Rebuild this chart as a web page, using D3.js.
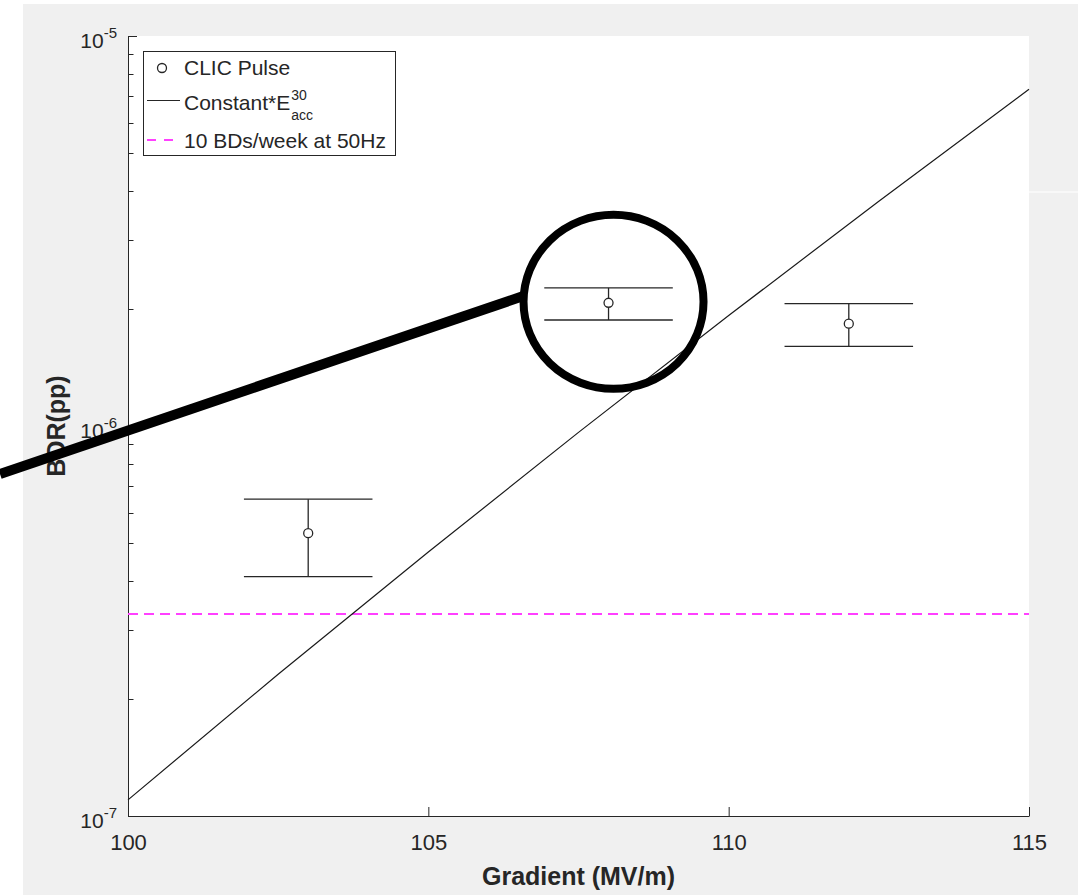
<!DOCTYPE html>
<meta charset="utf-8">
<title>BDR vs Gradient</title>
<style>
    body { margin: 0; background: #fff; }
    text {
        font-family: "Liberation Sans", Arial, Helvetica, sans-serif;
        fill: #262626;
    }
    .axis path, .axis line { stroke: #262626; }
</style>

<svg width="1082" height="895"></svg>

<script src="https://d3js.org/d3.v7.min.js"></script>
<script>

    // CLIC pulse measurements (value + error bar ends)
    var pulseX = [103, 108, 112];
    var pulseBdr = [5.31e-7, 2.07e-6, 1.83e-6];
    var pulseHigh = [6.49e-7, 2.26e-6, 2.06e-6];
    var pulseLow = [4.11e-7, 1.87e-6, 1.60e-6];

    // Constant*E^30 curve
    var fitX = [100, 102.5, 105, 107.5, 110, 112.5, 115];
    var fitBdr = [1.10e-7, 2.31e-7, 4.75e-7, 9.63e-7, 1.92e-6, 3.77e-6, 7.30e-6];

    // 10 BDs/week at 50Hz
    var limitBdr = 3.3e-7;

    var xTicks = [100, 105, 110, 115];
    var yTicks = [1e-7, 1e-6, 1e-5];
    var yExponents = ["-7", "-6", "-5"];
    var legendLabels = ["CLIC Pulse", "Constant*E", "10 BDs/week at 50Hz"];

    var svg = d3.select("svg");

    var x = d3.scaleLinear().domain([100, 115]).range([128, 1029]);
    var y = d3.scaleLog().domain([1e-7, 1e-5]).range([816, 36]);

    // figure background
    svg.append("rect")
        .attr("x", 23).attr("y", 4)
        .attr("width", 1055).attr("height", 891)
        .attr("fill", "#f0f0f0");
    svg.append("rect")
        .attr("x", 1029).attr("y", 191.5)
        .attr("width", 49).attr("height", 1)
        .attr("fill", "#fff");

    // axes area
    svg.append("rect")
        .attr("x", x.range()[0]).attr("y", y.range()[1])
        .attr("width", x.range()[1] - x.range()[0])
        .attr("height", y.range()[0] - y.range()[1])
        .attr("fill", "#fff");

    var xAxis = svg.append("g")
        .attr("class", "axis")
        .attr("transform", "translate(0," + y.range()[0] + ")")
        .call(d3.axisBottom(x)
            .tickValues(xTicks)
            .tickSize(-9)
            .tickSizeOuter(0)
            .tickPadding(18)
            .tickFormat(d3.format("d")));
    xAxis.selectAll("text")
        .attr("fill", "#262626")
        .style("font-size", "22px")
        .style("font-family", "'Liberation Sans', Arial, sans-serif");

    var yAxis = svg.append("g")
        .attr("class", "axis")
        .attr("transform", "translate(" + x.range()[0] + ",0)")
        .call(d3.axisLeft(y)
            .tickValues(yTicks)
            .tickSize(-9)
            .tickSizeOuter(0)
            .tickFormat(""));

    // log minor ticks
    var minor = [];
    [1e-7, 1e-6].forEach(function (d) {
        for (var k = 2; k <= 9; k++) minor.push(d * k);
    });
    yAxis.selectAll(".minor")
        .data(minor)
        .enter().append("line")
        .attr("class", "minor")
        .attr("x1", 0.5).attr("x2", 5.5)
        .attr("y1", function (d) { return Math.round(y(d)) + 0.5; })
        .attr("y2", function (d) { return Math.round(y(d)) + 0.5; })
        .attr("stroke", "#262626");

    // y tick labels 10^n
    var yLab = svg.append("g").selectAll("text")
        .data(yTicks)
        .enter().append("text")
        .attr("x", 117)
        .attr("y", function (d) { return y(d) + 12; })
        .attr("text-anchor", "end")
        .style("font-size", "21px");
    yLab.append("tspan").text("10");
    yLab.append("tspan")
        .attr("dy", -10)
        .style("font-size", "15px")
        .text(function (d, i) { return yExponents[i]; });

    // axis titles
    svg.append("text")
        .attr("x", (x.range()[0] + x.range()[1]) / 2)
        .attr("y", 885)
        .attr("text-anchor", "middle")
        .style("font-size", "25px")
        .style("font-weight", "bold")
        .text("Gradient (MV/m)");

    svg.append("text")
        .attr("transform", "translate(65," + (y.range()[0] + y.range()[1]) / 2 + ") rotate(-90)")
        .attr("text-anchor", "middle")
        .style("font-size", "25px")
        .style("font-weight", "bold")
        .text("BDR(pp)");

    // limit line
    var limitY = Math.round(y(limitBdr));
    svg.append("line")
        .attr("x1", x(100)).attr("x2", x(115))
        .attr("y1", limitY).attr("y2", limitY)
        .attr("stroke", "#ff40ff")
        .attr("stroke-width", 2)
        .attr("stroke-dasharray", "10,6");

    // fit curve
    var line = d3.line()
        .x(function (d) { return x(d[0]); })
        .y(function (d) { return y(d[1]); });
    svg.append("path")
        .datum(d3.zip(fitX, fitBdr))
        .attr("d", line)
        .attr("fill", "none")
        .attr("stroke", "#1a1a1a")
        .attr("stroke-width", 1.2);

    // error bars
    var capHalf = 1.07;
    var bars = svg.append("g")
        .attr("stroke", "#262626")
        .attr("stroke-width", 1.3)
        .attr("fill", "none");
    pulseX.forEach(function (px, i) {
        bars.append("line")
            .attr("x1", x(px)).attr("x2", x(px))
            .attr("y1", y(pulseLow[i])).attr("y2", y(pulseHigh[i]));
        [pulseLow[i], pulseHigh[i]].forEach(function (v) {
            bars.append("line")
                .attr("x1", x(px - capHalf)).attr("x2", x(px + capHalf))
                .attr("y1", y(v)).attr("y2", y(v));
        });
        bars.append("circle")
            .attr("cx", x(px)).attr("cy", y(pulseBdr[i]))
            .attr("r", 4.5)
            .attr("fill", "#fff");
    });

    // legend
    var legend = svg.append("g");
    legend.append("rect")
        .attr("x", 143.5).attr("y", 51.5)
        .attr("width", 252).attr("height", 104)
        .attr("fill", "#fff")
        .attr("stroke", "#262626");
    legend.append("circle")
        .attr("cx", 162).attr("cy", 68).attr("r", 4.5)
        .attr("fill", "none").attr("stroke", "#262626").attr("stroke-width", 1.3);
    legend.append("text")
        .attr("x", 184).attr("y", 75)
        .style("font-size", "21px")
        .text(legendLabels[0]);
    legend.append("line")
        .attr("x1", 147).attr("x2", 180)
        .attr("y1", 100.5).attr("y2", 100.5)
        .attr("stroke", "#262626");
    var fitLabel = legend.append("text")
        .attr("x", 184).attr("y", 110)
        .style("font-size", "21px")
        .text(legendLabels[1]);
    var supX = 184 + fitLabel.node().getComputedTextLength() + 1;
    legend.append("text")
        .attr("x", supX).attr("y", 100)
        .style("font-size", "14px")
        .text("30");
    legend.append("text")
        .attr("x", supX).attr("y", 120)
        .style("font-size", "14px")
        .text("acc");
    legend.append("line")
        .attr("x1", 147).attr("x2", 180)
        .attr("y1", 140).attr("y2", 140)
        .attr("stroke", "#ff40ff")
        .attr("stroke-width", 2)
        .attr("stroke-dasharray", "9,8");
    legend.append("text")
        .attr("x", 184).attr("y", 148)
        .style("font-size", "21px")
        .text(legendLabels[2]);

    // annotation: circle round the 108 MV/m point, with a pointer line
    var cx = x(pulseX[1]) + 5, cy = y(pulseBdr[1]) - 1;
    svg.append("line")
        .attr("x1", 0).attr("y1", 474)
        .attr("x2", cx - 88).attr("y2", 474 - 0.34 * (cx - 88))
        .attr("stroke", "#000")
        .attr("stroke-width", 10);
    svg.append("ellipse")
        .attr("cx", cx).attr("cy", cy)
        .attr("rx", 90).attr("ry", 87)
        .attr("fill", "none")
        .attr("stroke", "#000")
        .attr("stroke-width", 8);

</script>
